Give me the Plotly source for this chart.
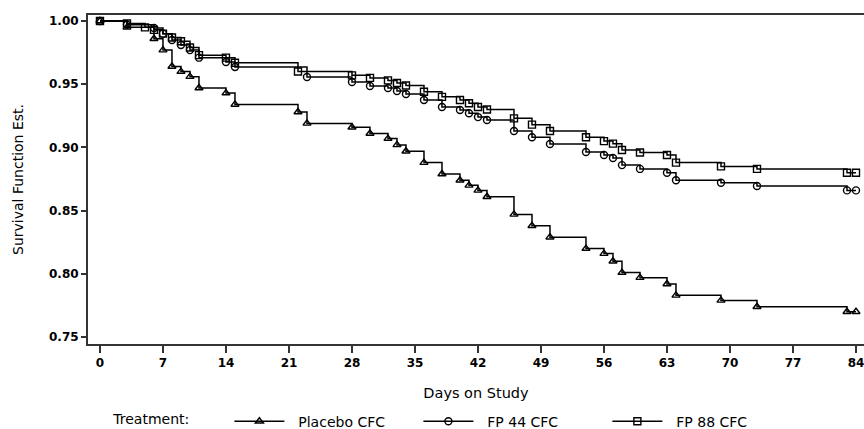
import plotly.graph_objects as go

# ---- data ----
days_placebo = [0, 3, 6, 7, 8, 9, 10, 11, 14, 15, 22, 23, 28, 30, 32, 33, 34, 36, 38, 40,
                41, 42, 43, 46, 48, 50, 54, 56, 57, 58, 60, 63, 64, 69, 73, 83, 84]
surv_placebo = [1.000, 0.995, 0.986, 0.977, 0.964, 0.960, 0.956, 0.947, 0.943, 0.934,
                0.928, 0.919, 0.916, 0.911, 0.907, 0.902, 0.897, 0.888, 0.879, 0.874,
                0.870, 0.866, 0.861, 0.847, 0.838, 0.829, 0.820, 0.816, 0.810, 0.801,
                0.797, 0.792, 0.783, 0.779, 0.774, 0.770, 0.770]

days_fp44 = [0, 3, 6, 7, 8, 9, 10, 11, 14, 15, 23, 28, 30, 32, 33, 34, 36, 38, 40, 41,
             42, 43, 46, 48, 50, 54, 56, 57, 58, 60, 63, 64, 69, 73, 83, 84]
surv_fp44 = [1.000, 0.997, 0.9945, 0.990, 0.985, 0.981, 0.977, 0.971, 0.9676, 0.9636,
             0.9557, 0.9517, 0.9486, 0.947, 0.9446, 0.9422, 0.9375, 0.932, 0.9296, 0.927,
             0.924, 0.9217, 0.913, 0.908, 0.9027, 0.8964, 0.894, 0.8916, 0.886, 0.883,
             0.880, 0.874, 0.872, 0.8695, 0.866, 0.866]

days_fp88 = [0, 3, 5, 6, 7, 8, 9, 10, 11, 14, 15, 22, 28, 30, 32, 33, 34, 36, 38, 40,
             41, 42, 43, 46, 48, 50, 54, 56, 57, 58, 60, 63, 64, 69, 73, 83, 84]
surv_fp88 = [1.000, 0.998, 0.995, 0.993, 0.990, 0.987, 0.984, 0.979, 0.973, 0.971,
             0.967, 0.960, 0.957, 0.955, 0.953, 0.951, 0.949, 0.944, 0.940, 0.9375,
             0.935, 0.932, 0.930, 0.923, 0.918, 0.913, 0.908, 0.905, 0.903, 0.898,
             0.896, 0.894, 0.888, 0.885, 0.883, 0.880, 0.880]

x_ticks = [0, 7, 14, 21, 28, 35, 42, 49, 56, 63, 70, 77, 84]
y_ticks = [0.75, 0.80, 0.85, 0.90, 0.95, 1.00]

series = [
    ("Placebo CFC", days_placebo, surv_placebo, "triangle-up-open"),
    ("FP 44 CFC", days_fp44, surv_fp44, "circle-open"),
    ("FP 88 CFC", days_fp88, surv_fp88, "square-open"),
]

NB = "\u00a0"
FONT = "DejaVu Sans"
fig = go.Figure()
for name, xs, ys, sym in series:
    fig.add_trace(go.Scatter(
        x=xs, y=ys, name=NB * 2 + name, mode="lines+markers",
        line=dict(color="black", width=1.5, shape="hv"),
        marker=dict(symbol=sym, size=7, color="black", line=dict(color="black", width=1.4)),
    ))

fig.update_layout(
    width=864, height=429,
    margin=dict(l=88, r=0, t=15, b=85, autoexpand=False),
    paper_bgcolor="white", plot_bgcolor="white",
    font=dict(family=FONT, color="black", size=12),
    showlegend=True,
    legend=dict(
        orientation="h", x=0.030, xanchor="left", y=-0.236, yanchor="middle",
        title=dict(text="Treatment:" + NB * 7, side="left", font=dict(size=14)),
        font=dict(size=14), entrywidth=124, entrywidthmode="pixels", itemwidth=50,
        bgcolor="rgba(0,0,0,0)",
    ),
)
fig.update_xaxes(
    range=[-1.33, 84.89], tickmode="array", tickvals=x_ticks,
    ticktext=[str(v) for v in x_ticks], ticklabeloverflow="allow",
    ticks="outside", ticklen=7, tickwidth=2, tickcolor="#333",
    showline=True, linewidth=2, linecolor="#333", mirror=True,
    showgrid=False, zeroline=False, automargin=False,
    tickfont=dict(size=12, weight="bold"),
    title=dict(text="Days on Study", font=dict(size=14.5), standoff=18),
)
fig.update_yaxes(
    range=[0.7445, 1.00475], tickmode="array", tickvals=y_ticks,
    ticktext=[f"{v:.2f}" for v in y_ticks],
    ticks="outside", ticklen=5, tickwidth=2, tickcolor="#333",
    showline=True, linewidth=2, linecolor="#333",
    showgrid=False, zeroline=False, automargin=False,
    tickfont=dict(size=12, weight="bold"),
    title=dict(text="Survival Function Est.", font=dict(size=14), standoff=22),
)

fig.write_html("out.html")
